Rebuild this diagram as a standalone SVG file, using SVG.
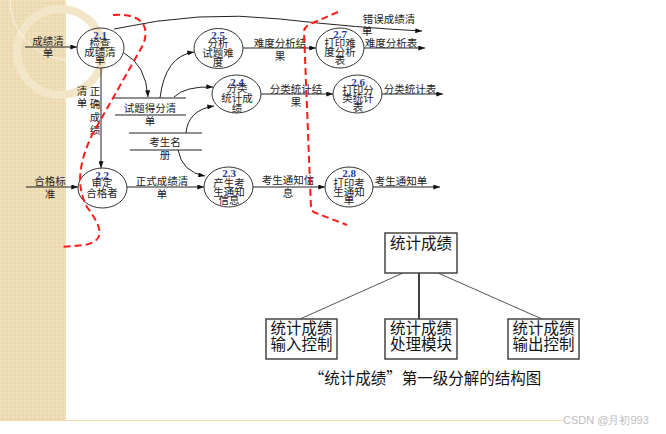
<svg xmlns="http://www.w3.org/2000/svg" width="666" height="434" viewBox="0 0 666 434">
<defs>
<marker id="ah" viewBox="0 0 8 6" refX="8" refY="3" markerWidth="7" markerHeight="5" orient="auto" markerUnits="userSpaceOnUse">
<path d="M0,0 L8,3 L0,6 Z" fill="#111"/>
</marker>
<pattern id="tex" width="4" height="4" patternUnits="userSpaceOnUse">
<rect width="4" height="4" fill="#eedcb4"/>
<rect width="2" height="2" fill="#f1e1bd"/>
<rect x="2" y="2" width="2" height="2" fill="#ead7ad"/>
</pattern>
</defs>
<style>
.t{font-family:"Noto Sans CJK SC","Liberation Sans",sans-serif;font-size:10.5px;fill:#222;text-anchor:middle}
.n{font-family:"Liberation Serif",serif;font-size:11px;font-weight:bold;fill:#1f3aa0;text-anchor:middle}
.e{fill:none;stroke:#333;stroke-width:1}
.l{fill:none;stroke:#222;stroke-width:1}
.s{stroke:#222;stroke-width:1.2}
.red{fill:none;stroke:#ff1a1a;stroke-width:2;stroke-dasharray:7,4}
.b{fill:#fff;stroke:#444;stroke-width:1.5}
.bt{font-family:"Noto Sans CJK SC","Liberation Sans",sans-serif;font-size:15.5px;fill:#111;text-anchor:middle}
</style>
<rect width="666" height="434" fill="#fff"/>
<rect x="0" y="0" width="66" height="420" fill="url(#tex)"/>
<circle cx="60" cy="52" r="43" fill="none" stroke="#f3e6c8" stroke-width="8"/>
<path d="M10,0 A60,60 0 0 0 66,60" fill="none" stroke="#fbf4e4" stroke-width="1"/>
<line x1="0" y1="420.5" x2="563" y2="420.5" stroke="#efd9a6" stroke-width="1"/>
<text x="563" y="424" style="font-family:'Liberation Sans',sans-serif;font-size:11px;fill:#bdbdbd">CSDN @月初993</text>

<g id="connectors">
<line class="l" x1="25" y1="47" x2="77" y2="47" marker-end="url(#ah)"/>
<path class="l" d="M114,29 Q200,10 280,19 T422,31" marker-end="url(#ah)"/>
<path class="l" d="M124,53 Q146,65 148,97" marker-end="url(#ah)"/>
<line class="l" x1="101" y1="68" x2="101" y2="168" marker-end="url(#ah)"/>
<path class="l" d="M160,98 Q165,56 194,52" marker-end="url(#ah)"/>
<path class="l" d="M174,97 Q185,86 213,87" marker-end="url(#ah)"/>
<path class="l" d="M186,133 Q188,110 214,106" marker-end="url(#ah)"/>
<path class="l" d="M178,150 Q182,172 205,176" marker-end="url(#ah)"/>
<line class="l" x1="243" y1="48" x2="316" y2="48" marker-end="url(#ah)"/>
<line class="l" x1="364" y1="48" x2="425" y2="48" marker-end="url(#ah)"/>
<line class="l" x1="261" y1="94" x2="333" y2="94" marker-end="url(#ah)"/>
<line class="l" x1="382" y1="94" x2="443" y2="94" marker-end="url(#ah)"/>
<line class="l" x1="26" y1="187" x2="78" y2="187" marker-end="url(#ah)"/>
<line class="l" x1="127" y1="187" x2="204" y2="187" marker-end="url(#ah)"/>
<line class="l" x1="253" y1="187" x2="325" y2="187" marker-end="url(#ah)"/>
<line class="l" x1="373" y1="187" x2="440" y2="187" marker-end="url(#ah)"/>
<line x1="403" y1="273" x2="300" y2="319" stroke="#555" stroke-width="1"/>
<line x1="419" y1="273" x2="419" y2="319" stroke="#111" stroke-width="1.6"/>
<line x1="438" y1="273" x2="542" y2="319" stroke="#555" stroke-width="1"/>
</g>

<g id="labels">
<text class="t" x="48" y="45">成绩清</text>
<text class="t" x="48" y="57">单</text>
<text class="t" x="389" y="23">错误成绩清</text>
<text class="t" x="367" y="35">单</text>
<text class="t" x="82" y="95">清</text>
<text class="t" x="82" y="107">单</text>
<text class="t" x="95" y="95">正</text>
<text class="t" x="95" y="108">确</text>
<text class="t" x="95" y="121">成</text>
<text class="t" x="95" y="134">绩</text>
<text class="t" x="50" y="185">合格标</text>
<text class="t" x="50" y="198">准</text>
<text class="t" x="162" y="185">正式成绩清</text>
<text class="t" x="162" y="198">单</text>
<text class="t" x="288" y="184">考生通知信</text>
<text class="t" x="288" y="197">息</text>
<text class="t" x="401" y="185">考生通知单</text>
<text class="t" x="280" y="47">难度分析结</text>
<text class="t" x="280" y="60">果</text>
<text class="t" x="391" y="47">难度分析表</text>
<text class="t" x="296" y="93">分类统计结</text>
<text class="t" x="296" y="106">果</text>
<text class="t" x="410" y="93">分类统计表</text>
</g>

<g id="store-score">
<line class="s" x1="113" y1="98" x2="186" y2="98"/>
<line class="s" x1="115" y1="115" x2="186" y2="115"/>
<text class="t" x="150" y="112">试题得分清</text>
<text class="t" x="150" y="125">单</text>
</g>
<g id="store-roster">
<line class="s" x1="129" y1="133" x2="202" y2="133"/>
<line class="s" x1="130" y1="150" x2="202" y2="150"/>
<text class="t" x="165" y="146">考生名</text>
<text class="t" x="165" y="159">册</text>
</g>

<g id="p21">
<ellipse class="e" cx="100.5" cy="48" rx="23.5" ry="20"/>
<text class="n" x="100" y="39">2.1</text>
<text class="t" x="100" y="47">检查</text>
<text class="t" x="100" y="56">成绩清</text>
<text class="t" x="100" y="64">单</text>
</g>
<g id="p25">
<ellipse class="e" cx="218.5" cy="48.5" rx="24.5" ry="20"/>
<text class="n" x="218" y="39">2.5</text>
<text class="t" x="218" y="47">分析</text>
<text class="t" x="218" y="57">试题难</text>
<text class="t" x="218" y="66">度</text>
</g>
<g id="p27">
<ellipse class="e" cx="340" cy="48" rx="24" ry="20"/>
<text class="n" x="340" y="38">2.7</text>
<text class="t" x="340" y="47">打印难</text>
<text class="t" x="340" y="56">度分析</text>
<text class="t" x="340" y="64">表</text>
</g>
<g id="p24">
<ellipse class="e" cx="236.5" cy="94" rx="24.5" ry="19"/>
<text class="n" x="237" y="86">2.4</text>
<text class="t" x="237" y="92">分类</text>
<text class="t" x="237" y="102">统计成</text>
<text class="t" x="237" y="112">绩</text>
</g>
<g id="p26">
<ellipse class="e" cx="357.5" cy="94" rx="24.5" ry="19"/>
<text class="n" x="358" y="86">2.6</text>
<text class="t" x="358" y="94">打印分</text>
<text class="t" x="358" y="102">类统计</text>
<text class="t" x="358" y="111">表</text>
</g>
<g id="p22">
<ellipse class="e" cx="102.5" cy="188" rx="24.5" ry="20"/>
<text class="n" x="102" y="179">2.2</text>
<text class="t" x="102" y="187">审定</text>
<text class="t" x="102" y="197">合格者</text>
</g>
<g id="p23">
<ellipse class="e" cx="228.5" cy="187" rx="24.5" ry="20"/>
<text class="n" x="229" y="177">2.3</text>
<text class="t" x="229" y="187">产生考</text>
<text class="t" x="229" y="196">生通知</text>
<text class="t" x="229" y="204">信息</text>
</g>
<g id="p28">
<ellipse class="e" cx="349" cy="187" rx="24" ry="20"/>
<text class="n" x="349" y="177">2.8</text>
<text class="t" x="349" y="187">打印考</text>
<text class="t" x="349" y="196">生通知</text>
<text class="t" x="349" y="204">单</text>
</g>

<g id="boundaries">
<path class="red" d="M113,15 C140,13 151,25 143,45 L92,135 C80,160 75,185 87,207 C100,225 108,240 85,245 L62,247"/>
<path class="red" d="M338,12 L308,25 Q304,28 304,32 L311,208 Q312,212 316,213 L347,225"/>
</g>

<g id="m-root">
<rect class="b" x="385" y="233" width="72" height="40"/>
<text class="bt" x="421" y="249">统计成绩</text>
</g>
<g id="m-in">
<rect class="b" x="266" y="319" width="71" height="40"/>
<text class="bt" x="301.5" y="334">统计成绩</text>
<text class="bt" x="301.5" y="350">输入控制</text>
</g>
<g id="m-proc">
<rect class="b" x="385" y="319" width="72" height="40"/>
<text class="bt" x="421" y="334">统计成绩</text>
<text class="bt" x="421" y="350">处理模块</text>
</g>
<g id="m-out">
<rect class="b" x="508" y="319" width="71" height="40"/>
<text class="bt" x="543.5" y="334">统计成绩</text>
<text class="bt" x="543.5" y="350">输出控制</text>
</g>
<text class="bt" x="425" y="384">“统计成绩”第一级分解的结构图</text>
</svg>
